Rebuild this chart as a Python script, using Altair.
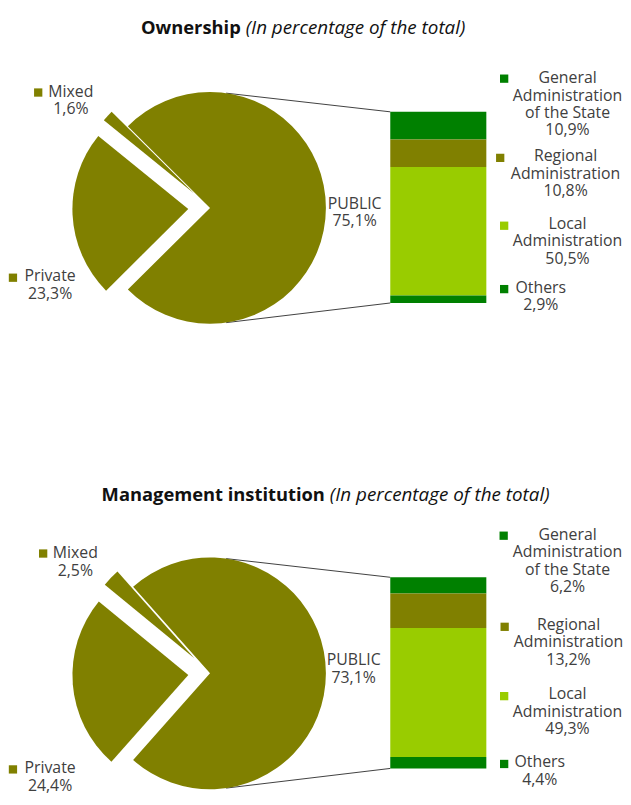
import math
import altair as alt
import pandas as pd

# ---------------- data ----------------
pie_categories = ["PUBLIC", "Private", "Mixed"]
ownership_pie = [75.1, 23.3, 1.6]
management_pie = [73.1, 24.4, 2.5]

public_categories = [
    "General\nAdministration\nof the State",
    "Regional\nAdministration",
    "Local\nAdministration",
    "Others",
]
ownership_public = [10.9, 10.8, 50.5, 2.9]
management_public = [6.2, 13.2, 49.3, 4.4]

section_titles = ["Ownership", "Management institution"]
subtitle = "(In percentage of the total)"

# ---------------- style / layout ----------------
W, H = 621, 789
FONT = "Open Sans"
OLIVE, GREEN, LIME = "#808000", "#008000", "#99CC00"
BAR_COLORS = [GREEN, OLIVE, LIME, GREEN]
TEXT = "#404040"
TITLE = "#111111"
FS = 16
LH = 17.6
R = 117
EXPLODE = 22
CX = 204
BAR_X = (386, 483)
CONNECT_ANGLE = math.radians(8)

# label positions: (x centre, y of first line)
LAYOUT = [
    dict(cy=198, bar=(101, 294), title_y=22, title_x=(235, 240),
         pie_lab={"PUBLIC": (350, 194), "Private": (42.5, 267), "Mixed": (63.5, 81)},
         pie_key={"Private": (5, 268.5), "Mixed": (30.5, 81.5)},
         bar_lab=[(565, 67), (563, 146), (565, 214), (538, 279)],
         bar_key=[(501, 67.5), (497, 147.5), (501, 216), (501, 280)]),
    dict(cy=668, bar=(571, 764), title_y=493.7, title_x=(320, 325),
         pie_lab={"PUBLIC": (349, 655), "Private": (42.5, 764), "Mixed": (68, 547)},
         pie_key={"Private": (5, 765), "Mixed": (35.5, 547)},
         bar_lab=[(565, 528), (566, 619), (565, 689), (537, 758)],
         bar_key=[(500.5, 529), (501.5, 621), (501, 691), (501, 759.5)]),
]

PCT = "replace(format(datum.value, '.1f'), '.', ',') + '%'"
color_scale = alt.Scale(domain=public_categories, range=BAR_COLORS)


def text_mark(**kw):
    base = dict(font=FONT, fontSize=FS, lineHeight=LH, color=TEXT,
                align="center", baseline="middle", lineBreak="\n")
    base.update(kw)
    return base


def section(title, pie_vals, bar_vals, L):
    layers = []
    cy = L["cy"]
    top, bot = L["bar"]

    # connector lines
    lines_df = pd.DataFrame({
        "x": [CX + R * math.sin(CONNECT_ANGLE)] * 2,
        "y": [cy - R * math.cos(CONNECT_ANGLE), cy + R * math.cos(CONNECT_ANGLE)],
        "x2": [BAR_X[0]] * 2,
        "y2": [top, bot],
    })
    layers.append(
        alt.Chart(lines_df).mark_rule(color=TEXT, strokeWidth=1).encode(
            x=alt.X("x:Q", scale=None, axis=None),
            y=alt.Y("y:Q", scale=None, axis=None),
            x2="x2:Q", y2="y2:Q")
    )

    # pie (bar-of-pie, exploded secondary slices)
    pie_df = pd.DataFrame({"cat": pie_categories, "value": pie_vals,
                           "idx": list(range(len(pie_vals)))})
    layers.append(
        alt.Chart(pie_df)
        .transform_joinaggregate(total="sum(value)")
        .transform_calculate(pub="datum.cat === 'PUBLIC' ? datum.value : 0")
        .transform_joinaggregate(pubtot="sum(pub)")
        .transform_window(cum="sum(value)", sort=[alt.SortField("idx")], frame=[None, 0])
        .transform_calculate(t0="PI/2 - PI*datum.pubtot/datum.total + 2*PI*(datum.cum - datum.value)/datum.total")
        .transform_calculate(t1="datum.t0 + 2*PI*datum.value/datum.total")
        .transform_calculate(ex=f"datum.cat === 'PUBLIC' ? 0 : {EXPLODE}")
        .transform_calculate(cx=f"{CX} + datum.ex*sin((datum.t0 + datum.t1)/2)")
        .transform_calculate(cy=f"{cy} - datum.ex*cos((datum.t0 + datum.t1)/2)")
        .mark_arc(radius=R, color=OLIVE)
        .encode(
            x=alt.X("cx:Q", scale=None, axis=None),
            y=alt.Y("cy:Q", scale=None, axis=None),
            theta=alt.Theta("t0:Q", scale=None, stack=None),
            theta2="t1:Q")
    )

    # stacked bar of the public breakdown
    bar_df = pd.DataFrame({"cat": public_categories, "value": bar_vals,
                           "idx": list(range(len(bar_vals)))})
    layers.append(
        alt.Chart(bar_df)
        .transform_stack(stack="value", as_=["v0", "v1"], groupby=[],
                         sort=[alt.SortField("idx", order="descending")])
        .mark_rect().encode(
            x=alt.value(BAR_X[0]), x2=alt.value(BAR_X[1]),
            y=alt.Y("v0:Q", axis=None,
                    scale=alt.Scale(range=[bot, top], nice=False, zero=True)),
            y2="v1:Q",
            color=alt.Color("cat:N", scale=color_scale, legend=None))
    )

    # legend keys
    pk = pd.DataFrame({"cat": list(L["pie_key"].keys()),
                       "kx": [v[0] for v in L["pie_key"].values()],
                       "ky": [v[1] for v in L["pie_key"].values()]})
    layers.append(
        alt.Chart(pk).mark_square(size=70, color=OLIVE, opacity=1).encode(
            x=alt.X("kx:Q", scale=None, axis=None),
            y=alt.Y("ky:Q", scale=None, axis=None))
    )
    bk = pd.DataFrame({"cat": public_categories,
                       "kx": [v[0] for v in L["bar_key"]],
                       "ky": [v[1] for v in L["bar_key"]]})
    layers.append(
        alt.Chart(bk).mark_square(size=70, opacity=1).encode(
            x=alt.X("kx:Q", scale=None, axis=None),
            y=alt.Y("ky:Q", scale=None, axis=None),
            color=alt.Color("cat:N", scale=color_scale, legend=None))
    )

    # labels
    pl = pd.DataFrame({"cat": pie_categories, "value": pie_vals,
                       "lx": [L["pie_lab"][c][0] for c in pie_categories],
                       "ly": [L["pie_lab"][c][1] for c in pie_categories]})
    layers.append(
        alt.Chart(pl).transform_calculate(lab="datum.cat + '\\n' + " + PCT)
        .mark_text(**text_mark()).encode(
            x=alt.X("lx:Q", scale=None, axis=None),
            y=alt.Y("ly:Q", scale=None, axis=None),
            text="lab:N")
    )
    bl = pd.DataFrame({"cat": public_categories, "value": bar_vals,
                       "lx": [v[0] for v in L["bar_lab"]],
                       "ly": [v[1] for v in L["bar_lab"]]})
    layers.append(
        alt.Chart(bl).transform_calculate(lab="datum.cat + '\\n' + " + PCT)
        .mark_text(**text_mark()).encode(
            x=alt.X("lx:Q", scale=None, axis=None),
            y=alt.Y("ly:Q", scale=None, axis=None),
            text="lab:N")
    )

    # title
    td = pd.DataFrame({"t": [title], "s": [subtitle]})
    layers.append(
        alt.Chart(td).mark_text(font=FONT, fontSize=18.5, fontWeight="bold", color=TITLE,
                                align="right", baseline="alphabetic").encode(
            text="t:N", x=alt.value(L["title_x"][0]), y=alt.value(L["title_y"]))
    )
    layers.append(
        alt.Chart(td).mark_text(font=FONT, fontSize=19, fontStyle="italic", color=TITLE,
                                align="left", baseline="alphabetic").encode(
            text="s:N", x=alt.value(L["title_x"][1]), y=alt.value(L["title_y"]))
    )
    return layers


all_layers = (section(section_titles[0], ownership_pie, ownership_public, LAYOUT[0])
              + section(section_titles[1], management_pie, management_public, LAYOUT[1]))

chart = (
    alt.layer(*all_layers)
    .resolve_scale(x="independent", y="independent")
    .properties(width=W, height=H, padding=0,
                autosize=alt.AutoSizeParams(type="none"))
    .configure_view(stroke=None)
)

chart.save("out.html", embed_options={"renderer": "svg", "actions": False})
